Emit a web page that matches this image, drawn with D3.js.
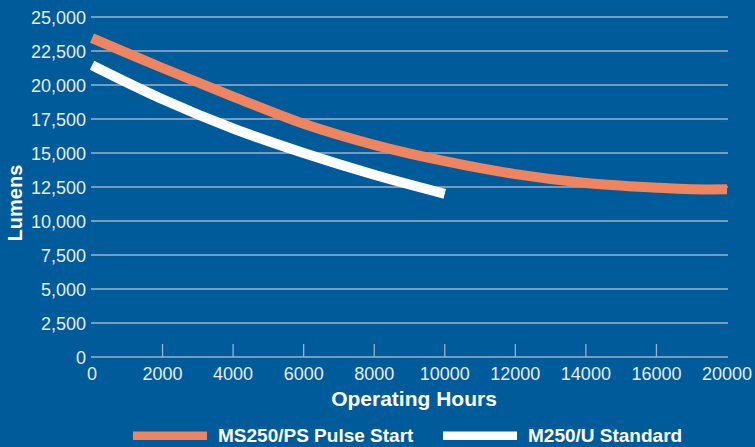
<!DOCTYPE html>
<html lang="en">
<head>
<meta charset="utf-8" />
<title>Lumens vs Operating Hours</title>
<script src="https://cdn.jsdelivr.net/npm/d3@7/dist/d3.min.js"></script>
<style>
  html, body { margin: 0; padding: 0; background: #005b9b; }
  svg { display: block; font-family: "Liberation Sans", Arial, Helvetica, sans-serif; }
</style>
</head>
<body>
<svg width="755" height="447"></svg>
<script>
// data
var xTicks = [0, 2000, 4000, 6000, 8000, 10000, 12000, 14000, 16000, 20000];
var yTicks = [0, 2500, 5000, 7500, 10000, 12500, 15000, 17500, 20000, 22500, 25000];

var pulseHours = [0, 2000, 4000, 6000, 8000, 10000, 12000, 14000, 16000, 18000, 20000];
var pulseLumens = [23450, 21250, 19150, 17150, 15600, 14400, 13450, 12800, 12450, 12330, 12330];

var standardHours = [0, 2000, 4000, 6000, 8000, 10000];
var standardLumens = [21450, 18950, 16800, 15000, 13400, 12000];

var seriesNames = ["MS250/PS Pulse Start", "M250/U Standard"];
var seriesColors = ["#f0845e", "#ffffff"];

var svg = d3.select("svg");
var plotLeft = 92, plotRight = 727, plotTop = 17, plotBottom = 357;
var w = plotRight - plotLeft;

// last tick label sits one step after 16000, so the axis is piecewise
var x = d3.scaleLinear()
    .domain([0, 16000, 20000])
    .range([plotLeft, plotLeft + w * 8 / 9, plotRight]);
var y = d3.scaleLinear().domain([0, 25000]).range([plotBottom, plotTop]);

var gridColor = "#9fb0c8";

// horizontal grid
svg.append("g")
    .selectAll("line")
    .data(yTicks)
    .enter().append("line")
    .attr("x1", plotLeft - 1)
    .attr("x2", plotRight + 1)
    .attr("y1", function (d) { return y(d); })
    .attr("y2", function (d) { return y(d); })
    .attr("stroke", gridColor)
    .attr("stroke-width", 1.3);

// y labels
svg.append("g")
    .selectAll("text")
    .data(yTicks)
    .enter().append("text")
    .attr("x", 86)
    .attr("y", function (d) { return y(d) + 6.5; })
    .attr("text-anchor", "end")
    .attr("fill", "#e6edf5")
    .style("font-size", "18px")
    .text(function (d) { return d3.format(",")(d); });

// x tick marks (inner ones only)
svg.append("g")
    .selectAll("line")
    .data(xTicks.slice(1, -1))
    .enter().append("line")
    .attr("x1", function (d) { return x(d); })
    .attr("x2", function (d) { return x(d); })
    .attr("y1", plotBottom - 13)
    .attr("y2", plotBottom)
    .attr("stroke", gridColor)
    .attr("stroke-width", 1.3);

// x labels
svg.append("g")
    .selectAll("text")
    .data(xTicks)
    .enter().append("text")
    .attr("x", function (d) { return x(d); })
    .attr("y", 380)
    .attr("text-anchor", "middle")
    .attr("fill", "#e6edf5")
    .style("font-size", "18px")
    .text(function (d) { return d; });

// axis titles
svg.append("text")
    .attr("x", 414)
    .attr("y", 406)
    .attr("text-anchor", "middle")
    .attr("fill", "#ffffff")
    .style("font-size", "21px")
    .style("font-weight", "bold")
    .text("Operating Hours");

svg.append("text")
    .attr("transform", "translate(22,203) rotate(-90)")
    .attr("text-anchor", "middle")
    .attr("fill", "#ffffff")
    .style("font-size", "20px")
    .style("font-weight", "bold")
    .text("Lumens");

// curves
var line = d3.line()
    .x(function (d) { return x(d[0]); })
    .y(function (d) { return y(d[1]); })
    .curve(d3.curveCatmullRom);

var series = [
    d3.zip(pulseHours, pulseLumens),
    d3.zip(standardHours, standardLumens)
];

svg.append("g")
    .selectAll("path")
    .data(series)
    .enter().append("path")
    .attr("d", line)
    .attr("fill", "none")
    .attr("stroke", function (d, i) { return seriesColors[i]; })
    .attr("stroke-width", 10)
    .attr("stroke-linecap", "butt");

// legend
var legendX = [133, 443];
var legend = svg.append("g")
    .selectAll("g")
    .data(seriesNames)
    .enter().append("g")
    .attr("transform", function (d, i) { return "translate(" + legendX[i] + ",0)"; });

legend.append("rect")
    .attr("x", 0)
    .attr("y", 431.5)
    .attr("width", 74)
    .attr("height", 8.5)
    .attr("fill", function (d, i) { return seriesColors[i]; });

legend.append("text")
    .attr("x", 85)
    .attr("y", 442)
    .attr("fill", "#ffffff")
    .style("font-size", "19px")
    .style("font-weight", "bold")
    .text(function (d) { return d; });
</script>
</body>
</html>
